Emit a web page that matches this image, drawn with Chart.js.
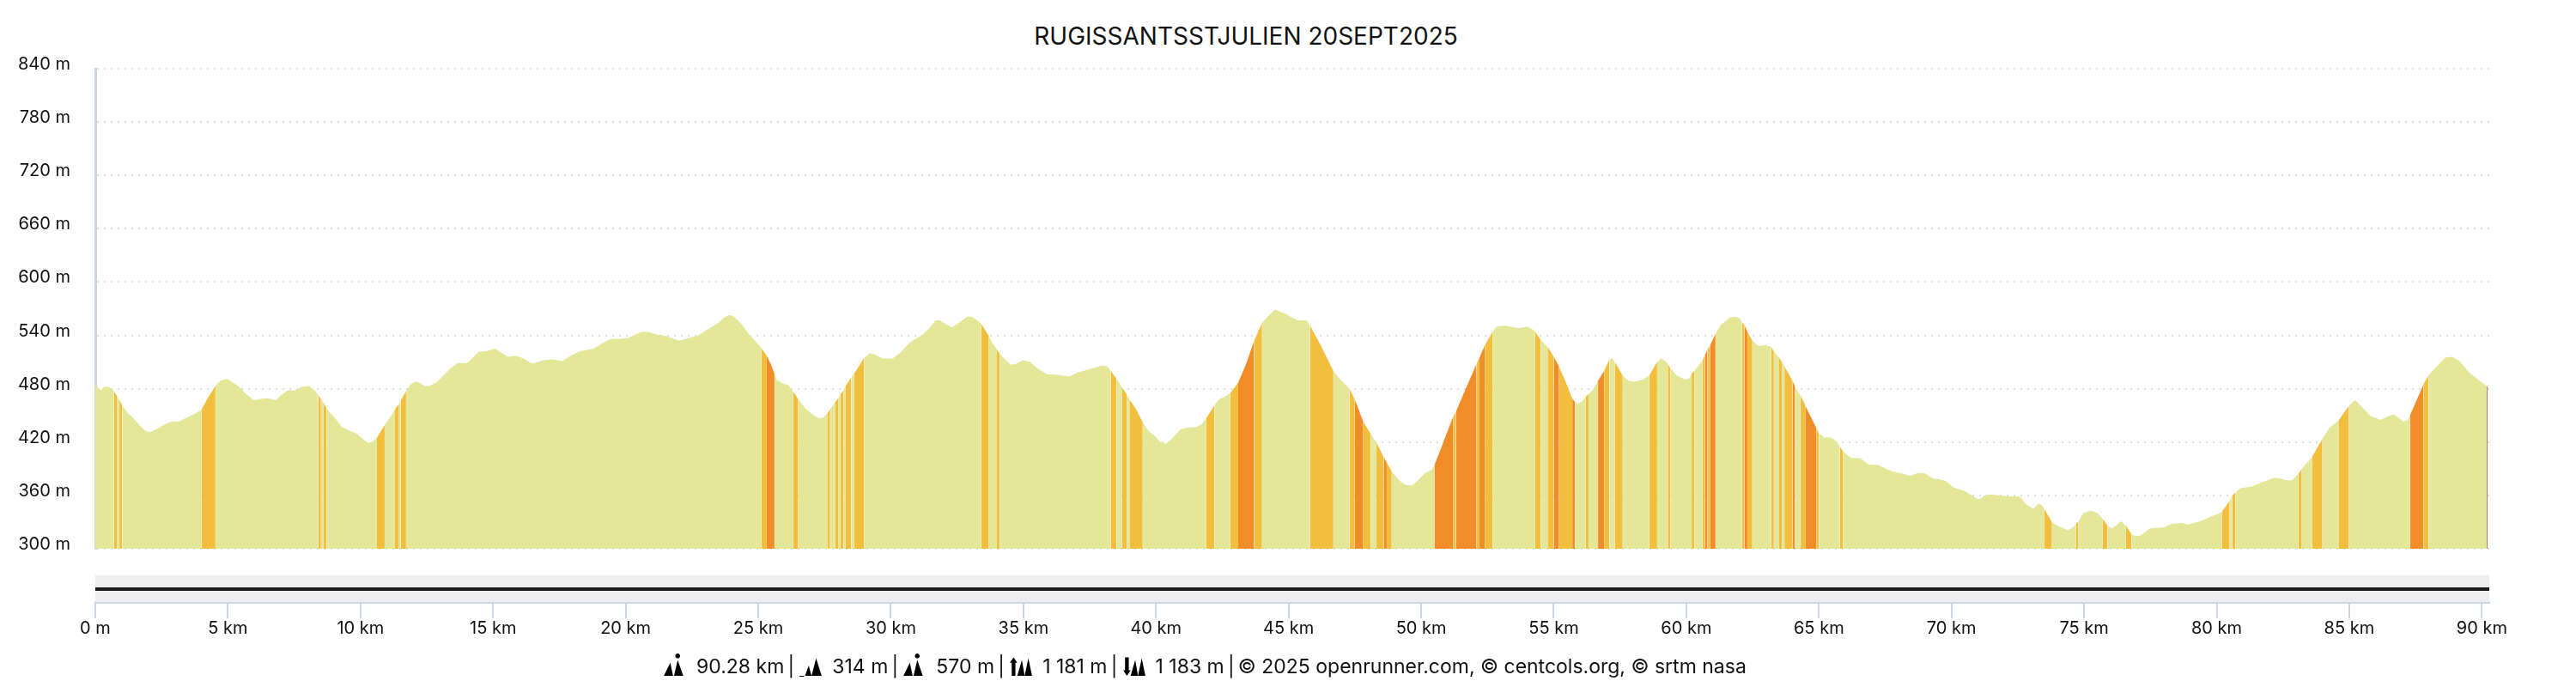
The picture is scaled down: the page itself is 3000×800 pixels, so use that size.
<!DOCTYPE html>
<html>
<head>
<meta charset="utf-8">
<title>RUGISSANTSSTJULIEN 20SEPT2025</title>
<script src="https://cdn.jsdelivr.net/npm/chart.js@4"></script>
<style>
  html, body { margin: 0; padding: 0; background: #fff; font-family: Inter, sans-serif; color: #111; }
  canvas { position: absolute; left: 0; }
  #profil { top: 0; }
  #navigateur { top: 650px; }
  #titre { position: absolute; left: 1251px; width: 400px; top: 24px; white-space: nowrap; display: flex; justify-content: center; font-size: 28px; line-height: 36px; }
  #pied { position: absolute; left: 771px; top: 760px; white-space: nowrap; font-size: 23px; line-height: 28px; }
  #pied svg { width: 30px; height: 28px; vertical-align: -4px; margin-right: 10px; fill: #000; }
  #pied i { font-style: normal; margin: 0 -2.3px; }
</style>
</head>
<body>
<div id="titre">RUGISSANTSSTJULIEN 20SEPT2025</div>
<canvas id="profil" width="3000" height="680"></canvas>
<canvas id="navigateur" width="3000" height="150"></canvas>
<div id="pied">
  <svg viewBox="0 0 26 26"><path d="M1 25 8 11 11 25zM12 25 16 8 22 25zM16 1a2.6 2.6 0 1 0 .01 0z"/></svg>90.28 km <i>|</i> 
  <svg viewBox="0 0 26 26"><path d="M1 25a2.5 2.5 0 1 0 5 0zM7 25 11 14 14 25zM14 25 19 6 25 25z"/></svg>314 m <i>|</i> 
  <svg viewBox="0 0 26 26"><path d="M1 25 8 11 11 25zM12 25 16 8 22 25zM16 1a2.6 2.6 0 1 0 .01 0z"/></svg>570 m <i>|</i> 
  <svg viewBox="0 0 26 26"><path d="M3 25V11H1L5 5 9 11H7V25zM9 25 14 8 17 25zM17 25 21 6 25 25z"/></svg>1 181 m <i>|</i> 
  <svg viewBox="0 0 26 26"><path d="M3 5V19H1L5 25 9 19H7V5zM9 25 14 8 17 25zM17 25 21 6 25 25z"/></svg>1 183 m <i>|</i> © 2025 openrunner.com, © centcols.org, © srtm nasa
</div>
<script>
'use strict';

// profil altimetrique
const distanceKm = [
  0, 0.22, 0.32, 0.48, 0.62, 0.70, 0.81, 0.91, 1.02, 1.21, 1.43, 1.70,
  1.91, 2.04, 2.34, 2.63, 2.88, 3.13, 3.42, 3.75, 4.00, 4.23, 4.53, 4.72,
  4.96, 5.15, 5.42, 5.69, 5.98, 6.17, 6.36, 6.55, 6.80, 6.98, 7.25, 7.52,
  7.79, 8.06, 8.28, 8.41, 8.51, 8.61, 8.72, 9.03, 9.30, 9.57, 9.84, 10.11,
  10.27, 10.43, 10.62, 10.91, 11.14, 11.30, 11.43, 11.52, 11.72, 11.89, 12.05, 12.22,
  12.41, 12.59, 12.86, 13.13, 13.40, 13.67, 14.03, 14.27, 14.48, 14.72, 15.07, 15.29,
  15.56, 15.86, 16.15, 16.42, 16.59, 16.86, 17.23, 17.61, 17.93, 18.26, 18.80, 19.12,
  19.45, 19.77, 20.09, 20.31, 20.58, 20.85, 21.17, 21.55, 21.82, 22.03, 22.36, 22.74,
  23.11, 23.49, 23.71, 23.92, 24.09, 24.36, 24.68, 25.00, 25.11, 25.32, 25.47, 25.61,
  25.70, 25.92, 26.14, 26.31, 26.51, 26.78, 27.05, 27.27, 27.43, 27.60, 27.71, 27.91,
  28.01, 28.10, 28.21, 28.30, 28.51, 28.62, 29.00, 29.21, 29.43, 29.70, 30.07, 30.34,
  30.72, 31.21, 31.42, 31.69, 31.85, 32.12, 32.31, 32.61, 32.88, 33.04, 33.26, 33.41,
  33.70, 33.80, 34.00, 34.11, 34.34, 34.53, 34.71, 34.98, 35.25, 35.52, 35.90, 36.12,
  36.49, 36.73, 37.03, 37.47, 37.95, 38.17, 38.30, 38.51, 38.71, 38.91, 39.02, 39.25,
  39.50, 39.73, 39.95, 40.16, 40.38, 40.57, 40.92, 41.13, 41.51, 41.73, 41.90, 42.20,
  42.38, 42.59, 42.80, 43.10, 43.40, 43.70, 44.00, 44.21, 44.48, 44.91, 45.13, 45.34,
  45.67, 45.81, 46.21, 46.69, 46.96, 47.30, 47.49, 47.64, 47.80, 48.10, 48.30, 48.59,
  48.70, 48.89, 49.17, 49.39, 49.66, 49.88, 50.15, 50.42, 50.50, 50.85, 51.20, 51.31,
  51.71, 52.09, 52.20, 52.40, 52.69, 52.84, 53.17, 53.71, 53.98, 54.19, 54.30, 54.51,
  54.79, 55.00, 55.20, 55.43, 55.70, 55.80, 55.92, 56.08, 56.20, 56.31, 56.46, 56.67,
  56.90, 57.10, 57.21, 57.30, 57.60, 57.81, 58.02, 58.35, 58.60, 58.90, 59.05, 59.21,
  59.30, 59.40, 59.64, 59.97, 60.13, 60.20, 60.30, 60.56, 60.60, 60.70, 60.80, 60.90,
  61.10, 61.31, 61.64, 61.85, 62.02, 62.09, 62.19, 62.30, 62.49, 62.72, 62.99, 63.20,
  63.30, 63.50, 63.60, 63.70, 64.00, 64.10, 64.30, 64.50, 64.90, 65.00, 65.20, 65.47,
  65.69, 65.79, 65.90, 66.22, 66.55, 66.87, 67.25, 67.52, 67.79, 68.06, 68.44, 68.71,
  68.98, 69.30, 69.57, 69.79, 70.06, 70.49, 70.76, 70.97, 71.08, 71.24, 71.46, 71.84,
  72.21, 72.57, 72.81, 73.08, 73.29, 73.40, 73.49, 73.79, 73.99, 74.21, 74.39, 74.59,
  74.70, 74.79, 74.97, 75.26, 75.50, 75.69, 75.88, 76.04, 76.20, 76.40, 76.53, 76.58,
  76.79, 76.96, 77.12, 77.50, 77.99, 78.31, 78.69, 78.93, 79.12, 79.39, 79.77, 80.19,
  80.49, 80.59, 80.70, 80.90, 81.33, 81.82, 82.20, 82.41, 82.63, 82.84, 83.08, 83.19,
  83.59, 83.99, 84.25, 84.59, 84.99, 85.22, 85.43, 85.81, 86.19, 86.46, 86.67, 86.87,
  87.05, 87.21, 87.29, 87.54, 87.80, 87.99, 88.29, 88.62, 88.89, 89.16, 89.53, 89.91,
  90.18, 90.21
];
const altitudeM = [
  484, 478, 482, 482, 480, 477, 472, 467, 461, 453, 447, 438,
  432, 431, 435, 440, 443, 443, 447, 452, 456, 469, 483, 489,
  491, 488, 482, 474, 467, 468, 469, 469, 467, 472, 478, 478,
  482, 483, 478, 473, 468, 464, 458, 447, 437, 433, 430, 423,
  419, 420, 425, 439, 449, 457, 462, 467, 477, 485, 488, 487,
  483, 483, 487, 495, 503, 509, 509, 516, 522, 522, 525, 521,
  516, 517, 514, 509, 509, 512, 513, 511, 517, 522, 525, 531,
  536, 536, 537, 540, 544, 544, 541, 539, 536, 534, 537, 540,
  547, 554, 560, 563, 561, 553, 540, 530, 526, 517, 508, 497,
  490, 486, 484, 477, 468, 458, 451, 447, 447, 452, 457, 465,
  469, 474, 478, 483, 493, 497, 515, 520, 518, 514, 514, 520,
  532, 541, 547, 557, 557, 552, 549, 555, 561, 561, 557, 553,
  539, 533, 524, 519, 512, 507, 508, 512, 510, 503, 496, 496,
  495, 494, 498, 502, 506, 505, 500, 491, 482, 473, 467, 457,
  442, 432, 427, 420, 418, 423, 434, 436, 437, 440, 447, 461,
  468, 471, 475, 487, 508, 534, 554, 561, 569, 564, 560, 557,
  557, 551, 529, 500, 490, 480, 468, 457, 444, 429, 420, 403,
  397, 387, 377, 372, 371, 377, 385, 389, 394, 421, 448, 454,
  482, 508, 515, 529, 544, 550, 551, 548, 550, 547, 544, 535,
  526, 516, 505, 489, 469, 465, 463, 466, 471, 474, 478, 489,
  500, 513, 514, 510, 495, 489, 488, 490, 495, 510, 514, 511,
  508, 503, 495, 490, 492, 497, 500, 510, 511, 518, 524, 529,
  542, 552, 560, 561, 559, 555, 552, 544, 534, 528, 529, 527,
  522, 515, 510, 505, 489, 482, 473, 460, 436, 430, 425, 425,
  420, 415, 410, 402, 402, 395, 394, 390, 387, 385, 382, 385,
  385, 379, 378, 376, 369, 365, 360, 356, 356, 360, 361, 360,
  359, 359, 350, 345, 351, 349, 345, 330, 326, 323, 321, 324,
  328, 331, 340, 343, 340, 334, 326, 323, 326, 331, 327, 326,
  316, 314, 315, 323, 324, 328, 329, 327, 329, 331, 336, 341,
  354, 360, 363, 368, 370, 376, 380, 379, 377, 377, 384, 389,
  403, 424, 436, 444, 461, 467, 461, 449, 445, 449, 451, 447,
  443, 445, 450, 467, 485, 495, 505, 515, 516, 511, 498, 489,
  483, 482
];

// tronçons de pente : debut, fin, niveau (1 jaune, 2 orange, 3 brun)
const penteDebut = [
  0.70, 0.91, 4.00, 8.41, 8.61, 10.62, 11.30, 11.52, 25.11, 25.32, 26.31, 27.60,
  27.91, 28.10, 28.30, 28.62, 33.41, 34.00, 38.30, 38.71, 39.02, 41.90, 42.80, 43.10,
  43.70, 45.81, 47.30, 47.49, 47.80, 48.30, 48.59, 48.70, 50.50, 51.20, 51.31, 52.09,
  52.20, 52.40, 54.30, 54.79, 55.00, 55.20, 55.70, 56.20, 56.67, 56.90, 57.30, 58.60,
  59.30, 60.20, 60.60, 60.70, 60.80, 60.90, 62.09, 62.19, 62.30, 63.20, 63.50, 63.70,
  64.00, 64.30, 64.50, 64.90, 65.79, 73.49, 74.70, 75.69, 76.58, 80.19, 80.59, 83.08,
  83.59, 84.59, 87.29, 87.80, 90.18
];
const penteFin = [
  0.81, 1.02, 4.53, 8.51, 8.72, 10.91, 11.43, 11.72, 25.32, 25.61, 26.51, 27.71,
  28.01, 28.21, 28.51, 29.00, 33.70, 34.11, 38.51, 38.91, 39.50, 42.20, 43.10, 43.70,
  44.00, 46.69, 47.49, 47.80, 48.10, 48.59, 48.70, 48.89, 51.20, 51.31, 52.09, 52.20,
  52.40, 52.69, 54.51, 55.00, 55.20, 55.70, 55.80, 56.31, 56.90, 57.10, 57.60, 58.90,
  59.40, 60.30, 60.70, 60.80, 60.90, 61.10, 62.19, 62.30, 62.49, 63.30, 63.60, 64.00,
  64.10, 64.50, 64.90, 65.00, 65.90, 73.79, 74.79, 75.88, 76.79, 80.49, 80.70, 83.19,
  83.99, 84.99, 87.80, 87.99, 90.21
];
const penteNiveau = [
  1, 1, 1, 1, 1, 1, 1, 1, 1, 2, 1, 1,
  1, 1, 1, 1, 1, 1, 1, 1, 1, 1, 1, 2,
  1, 1, 1, 2, 1, 1, 2, 1, 2, 1, 2, 1,
  2, 1, 1, 1, 2, 1, 2, 1, 2, 1, 1, 1,
  1, 1, 1, 2, 1, 2, 1, 2, 1, 1, 1, 1,
  2, 1, 2, 1, 1, 1, 1, 1, 1, 1, 1, 1,
  1, 1, 2, 1, 3
];

const couleursPente = ['#e4e698', '#f2be3e', '#f18d29', '#8a4a1e'];
const distanceTotale = 90.28;
const policeAxes = { family: 'Inter', size: 20 };

function couleurTroncon(ctx) {
    const milieu = (ctx.p0.parsed.x + ctx.p1.parsed.x) / 2;
    for (let i = 0; i < penteDebut.length; i++) {
        if (milieu > penteDebut[i] && milieu < penteFin[i]) return couleursPente[penteNiveau[i]];
    }
    return couleursPente[0];
}

const graficoProfil = new Chart(document.getElementById('profil'), {
    type: 'line',
    data: {
        datasets: [{
            label: 'Altitude',
            data: distanceKm.map((d, i) => ({ x: d, y: altitudeM[i] })),
            fill: 'start',
            backgroundColor: couleursPente[0],
            borderWidth: 0,
            pointRadius: 0,
            segment: { backgroundColor: couleurTroncon }
        }]
    },
    options: {
        responsive: false,
        animation: false,
        layout: { padding: { top: 80, right: 101, bottom: 12 } },
        plugins: { legend: { display: false }, tooltip: { enabled: false } },
        scales: {
            x: { type: 'linear', min: 0, max: distanceTotale, display: false },
            y: {
                min: 300,
                max: 840,
                afterFit: (echelle) => { echelle.width = 111; },
                grid: { color: '#d9dee8', lineWidth: 2, drawTicks: false },
                border: { display: true, color: '#ccd6eb', width: 3, dash: [2, 6] },
                ticks: {
                    stepSize: 60,
                    padding: 29,
                    labelOffset: -5,
                    color: '#111',
                    font: policeAxes,
                    callback: (v) => v + ' m'
                }
            }
        }
    }
});

const graficoNavigateur = new Chart(document.getElementById('navigateur'), {
    type: 'line',
    data: {
        datasets: [
            {
                label: 'Trace',
                data: [{ x: 0, y: 0.48 }, { x: distanceTotale, y: 0.48 }],
                borderColor: '#1a1a1a',
                borderWidth: 4,
                pointRadius: 0
            },
            {
                label: 'Fond',
                data: [{ x: 0, y: 1 }, { x: distanceTotale, y: 1 }],
                fill: 'start',
                backgroundColor: '#eeeeee',
                borderWidth: 0,
                pointRadius: 0
            }
        ]
    },
    options: {
        responsive: false,
        animation: false,
        layout: { padding: { top: 20, left: 111, right: 101 } },
        plugins: { legend: { display: false }, tooltip: { enabled: false } },
        scales: {
            y: { min: 0, max: 1, display: false },
            x: {
                type: 'linear',
                min: 0,
                max: distanceTotale,
                afterFit: (echelle) => { echelle.height = 99; },
                grid: { drawOnChartArea: false, color: '#ccd6eb', lineWidth: 2, tickLength: 19 },
                border: { display: true, color: '#ccd6eb', width: 3 },
                ticks: {
                    stepSize: 5,
                    includeBounds: false,
                    autoSkip: false,
                    maxRotation: 0,
                    padding: 0,
                    color: '#111',
                    font: policeAxes,
                    callback: (v) => (v === 0 ? '0 m' : v + ' km')
                }
            }
        }
    }
});
</script>
</body>
</html>
